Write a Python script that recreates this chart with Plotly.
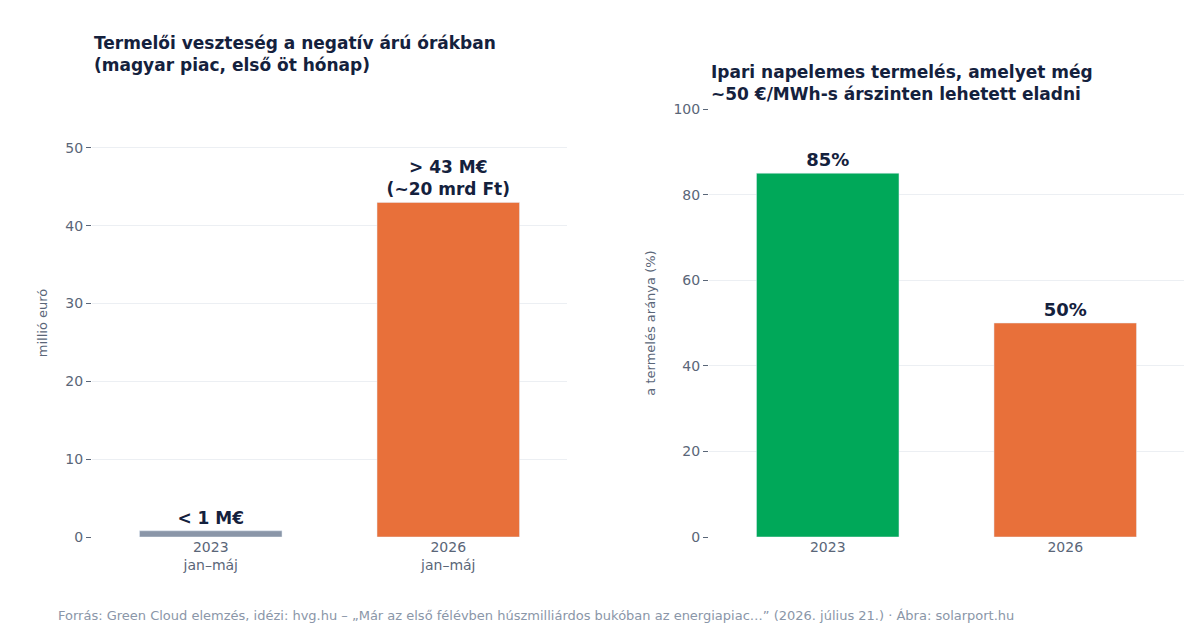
import plotly.graph_objects as go
from plotly.subplots import make_subplots

# left panel: producer losses in negative-price hours
loss_years = ["2023<br>jan–máj", "2026<br>jan–máj"]
loss_values = [0.8, 43]
loss_labels = ["< 1 M€", "> 43 M€<br>(~20 mrd Ft)"]
loss_colors = ["#8a96a8", "#e8703a"]

# right panel: share sellable at ~50 €/MWh
share_years = ["2023", "2026"]
share_values = [85, 50]
share_labels = ["85%", "50%"]
share_colors = ["#00a859", "#e8703a"]

DARK = "#14213d"
GREY = "#5a6678"

fig = make_subplots(rows=1, cols=2)

fig.add_trace(go.Bar(
    x=loss_years, y=loss_values, marker_color=loss_colors, width=0.6,
    text=loss_labels, textposition="outside", cliponaxis=False,
    textfont=dict(size=17, color=DARK, family="DejaVu Sans", weight="bold"),
), row=1, col=1)
fig.add_trace(go.Bar(
    x=share_years, y=share_values, marker_color=share_colors, width=0.6,
    text=share_labels, textposition="outside", cliponaxis=False,
    textfont=dict(size=18, color=DARK, family="DejaVu Sans", weight="bold"),
), row=1, col=2)

axis_style = dict(showline=False, zeroline=False, automargin=False,
                  tickfont=dict(size=14, color=GREY))
fig.update_xaxes(**axis_style, domain=[0.0, 0.435], row=1, col=1)
fig.update_xaxes(**axis_style, domain=[0.565, 1.0], row=1, col=2)
fig.update_yaxes(**axis_style, range=[0, 55], tickvals=[0, 10, 20, 30, 40, 50],
                 ticks="outside", ticklen=5, tickcolor=GREY, gridcolor="#eceff3",
                 title=dict(text="millió euró", font=dict(size=13, color=GREY), standoff=14),
                 row=1, col=1)
fig.update_yaxes(**axis_style, range=[0, 100], tickvals=[0, 20, 40, 60, 80, 100],
                 ticks="outside", ticklen=5, tickcolor=GREY, gridcolor="#eceff3",
                 title=dict(text="a termelés aránya (%)", font=dict(size=13, color=GREY), standoff=14),
                 row=1, col=2)

fig.add_annotation(text="<b>Termelői veszteség a negatív árú órákban<br>(magyar piac, első öt hónap)</b>",
                   xref="paper", yref="paper", x=0.0, y=1.0, yshift=32, xanchor="left", yanchor="bottom",
                   align="left", showarrow=False, font=dict(size=17, color=DARK))
fig.add_annotation(text="<b>Ipari napelemes termelés, amelyet még<br>~50 €/MWh-s árszinten lehetett eladni</b>",
                   xref="paper", yref="paper", x=0.565, y=1.0, yshift=3, xanchor="left", yanchor="bottom",
                   align="left", showarrow=False, font=dict(size=17, color=DARK))
fig.add_annotation(text="Forrás: Green Cloud elemzés, idézi: hvg.hu – „Már az első félévben húszmilliárdos bukóban az energiapiac…” (2026. július 21.) · Ábra: solarport.hu",
                   xref="paper", yref="paper", x=-0.033, y=0, xanchor="left", yanchor="middle",
                   yshift=-78, showarrow=False, font=dict(size=13, color="#8a96a8"))

fig.update_layout(
    width=1200, height=630, showlegend=False,
    plot_bgcolor="white", paper_bgcolor="white",
    font=dict(family="DejaVu Sans", color=DARK),
    margin=dict(l=84, r=24, t=101, b=101, autoexpand=False),
)

fig.write_html("out.html")
